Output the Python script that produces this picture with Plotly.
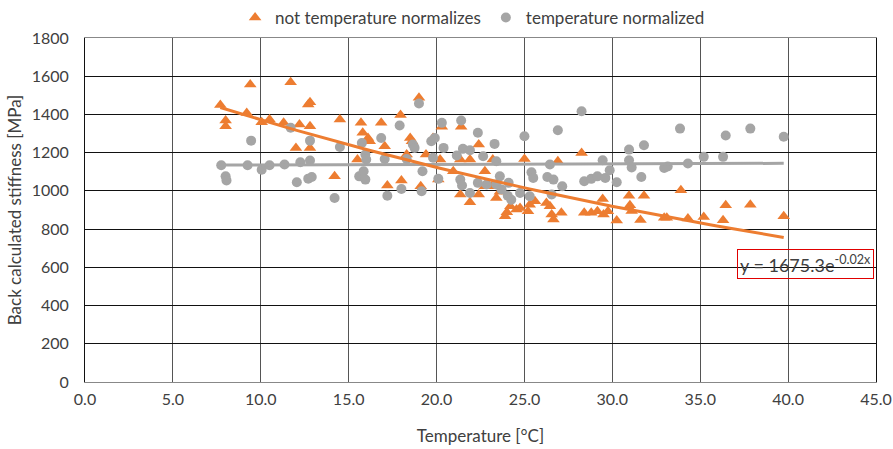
import numpy as np
import plotly.graph_objects as go

# Back-calculated stiffness vs. temperature, raw values
raw_temp = [7.7, 8.0, 8.0, 9.2, 9.4, 10.05, 10.5, 11.3, 11.7, 12.0, 12.2, 12.7, 12.8, 12.8, 12.8,
            14.2, 14.5, 15.5, 15.7, 15.8, 16.1, 16.2, 16.85, 17.05, 17.2, 17.95, 18.0, 18.3, 18.5,
            18.6, 19.0, 19.1, 19.4, 19.8, 20.1, 20.2, 20.3, 20.95, 21.35, 21.35, 21.4, 21.9, 21.9,
            22.4, 22.4, 22.75, 22.75, 23.15, 23.2, 23.4, 23.6, 23.9, 24.0, 24.2, 24.55, 24.75,
            25.0, 25.2, 25.3, 25.6, 26.25, 26.45, 26.55, 26.65, 26.9, 27.1, 28.25, 28.4, 28.8,
            29.15, 29.45, 29.5, 29.75, 30.25, 30.95, 31.0, 31.1, 31.6, 31.8, 32.95, 33.1, 33.9,
            34.3, 35.2, 36.3, 36.45, 37.85, 39.75]
raw_stiff = [1450, 1368, 1338, 1408, 1557, 1359, 1373, 1356, 1569, 1225, 1347, 1452, 1464, 1338, 1225,
             1076, 1373, 1164, 1356, 1304, 1277, 1260, 1356, 1234, 1028, 1397, 1054, 1190, 1277,
             1260, 1487, 1024, 1190, 1277, 1059, 1164, 1335, 1103, 1164, 981, 1335, 1164, 940,
             1243, 981, 1103, 1024, 1024, 1164, 963, 995, 867, 888, 919, 902, 911,
             1167, 893, 928, 946, 937, 919, 876, 850, 1155, 885, 1198, 885, 885,
             893, 958, 876, 893, 845, 975, 925, 895, 848, 975, 860, 860, 1003,
             856, 864, 846, 925, 928, 867]

# Temperature-normalized values
norm_temp = [7.75, 8.0, 8.05, 9.25, 9.45, 10.05, 10.5, 11.35, 11.7, 12.05, 12.25, 12.7, 12.8, 12.8,
             12.9, 14.2, 14.5, 15.6, 15.75, 15.95, 16.0, 15.85, 15.95, 16.85, 17.05, 17.2, 17.9,
             18.0, 18.3, 18.65, 18.75, 19.0, 19.15, 19.2, 19.7, 19.9, 19.8, 20.1, 20.3, 20.4,
             21.15, 21.35, 21.4, 21.45, 21.5, 21.9, 21.9, 22.35, 22.35, 22.65, 22.85, 23.3, 23.4,
             23.4, 23.6, 23.7, 24.05, 24.1, 24.25, 24.75, 25.0, 25.3, 25.4, 25.5, 26.3, 26.45,
             26.55, 26.65, 26.9, 27.15, 28.25, 28.4, 28.8, 29.15, 29.45, 29.6, 29.85, 30.25,
             30.95, 30.95, 31.1, 31.65, 31.8, 32.95, 33.15, 33.85, 34.3, 35.2, 36.3, 36.45,
             37.85, 39.75]
norm_stiff = [1134, 1076, 1055, 1134, 1263, 1111, 1134, 1138, 1330, 1045, 1150, 1064, 1263, 1159,
              1073, 963, 1230, 1076, 1251, 1190, 1164, 1103, 1059, 1277, 1167, 975, 1342,
              1010, 1167, 1243, 1225, 1457, 998, 1103, 1260, 1277, 1173, 1063, 1356, 1225,
              1185, 1059, 1368, 1028, 1220, 1213, 989, 1304, 1042, 1181, 1033, 1246, 1155,
              1033, 1076, 1007, 975, 1042, 954, 989, 1286, 972, 1097, 1068, 1073, 1138,
              981, 1059, 1317, 1024, 1417, 1050, 1063, 1076, 1160, 1068, 1108, 1045,
              1216, 1160, 1122, 1073, 1239, 1120, 1128, 1326, 1143, 1178, 1178, 1290,
              1326, 1283]

# Exponential trend lines y = a * exp(b * x)
raw_trend = (1675.3, -0.02)
norm_trend = (1133.0, 0.00025)

x_ticks = [0, 5, 10, 15, 20, 25, 30, 35, 40, 45]
y_ticks = [0, 200, 400, 600, 800, 1000, 1200, 1400, 1600, 1800]

ORANGE = "#ED7D31"
GREY = "#A5A5A5"
FONT = "Lato, Open Sans, sans-serif"
TEXT = "#404040"

fig = go.Figure()

fig.add_trace(go.Scatter(
    x=raw_temp, y=raw_stiff, mode="markers", name="not temperature normalizes",
    marker=dict(symbol="triangle-up", size=11, color=ORANGE, line=dict(width=0)),
))
fig.add_trace(go.Scatter(
    x=norm_temp, y=norm_stiff, mode="markers", name="temperature normalized",
    marker=dict(symbol="circle", size=10, color=GREY, line=dict(width=0)),
))

for temps, (a, b), col in [(norm_temp, norm_trend, GREY), (raw_temp, raw_trend, ORANGE)]:
    xs = np.linspace(min(temps), max(temps), 60)
    fig.add_trace(go.Scatter(
        x=xs, y=a * np.exp(b * xs), mode="lines", showlegend=False,
        line=dict(color=col, width=3), hoverinfo="skip",
    ))

fig.add_annotation(
    x=41.0, y=620, xref="x", yref="y",
    text="y = 1675.3e<sup>-0.02x</sup>", showarrow=False,
    font=dict(family=FONT, size=18, color=TEXT),
    bordercolor="#E00000", borderwidth=1, borderpad=2,
)

fig.update_layout(
    width=893, height=449,
    margin=dict(l=85, r=17, t=38, b=67, autoexpand=False),
    paper_bgcolor="white", plot_bgcolor="white",
    font=dict(family=FONT, size=16, color=TEXT),
    legend=dict(orientation="h", x=0.49, xanchor="center",
                yref="container", y=1.0, yanchor="top",
                font=dict(size=17), itemwidth=30, tracegroupgap=0,
                bgcolor="rgba(0,0,0,0)"),
    showlegend=True,
)
fig.update_xaxes(
    range=[0, 45], tickvals=x_ticks, ticktext=[f"{v:.1f}" for v in x_ticks],
    showgrid=True, gridcolor="#555555", gridwidth=1,
    showline=True, linecolor="#888888", linewidth=1, mirror=True,
    zeroline=False, ticks="", automargin=False, ticklabelstandoff=3,
    tickfont=dict(size=16),
    title=dict(text="Temperature [°C]", font=dict(size=17), standoff=22),
)
fig.update_yaxes(
    range=[0, 1800], tickvals=y_ticks,
    showgrid=True, gridcolor="#111111", gridwidth=1,
    showline=True, linecolor="#111111", linewidth=1, mirror=True,
    zeroline=False, ticks="", automargin=False, ticklabelstandoff=12,
    tickfont=dict(size=16),
    title=dict(text="Back calculated stiffness [MPa]", font=dict(size=17), standoff=5),
)

fig.write_html("out.html")
